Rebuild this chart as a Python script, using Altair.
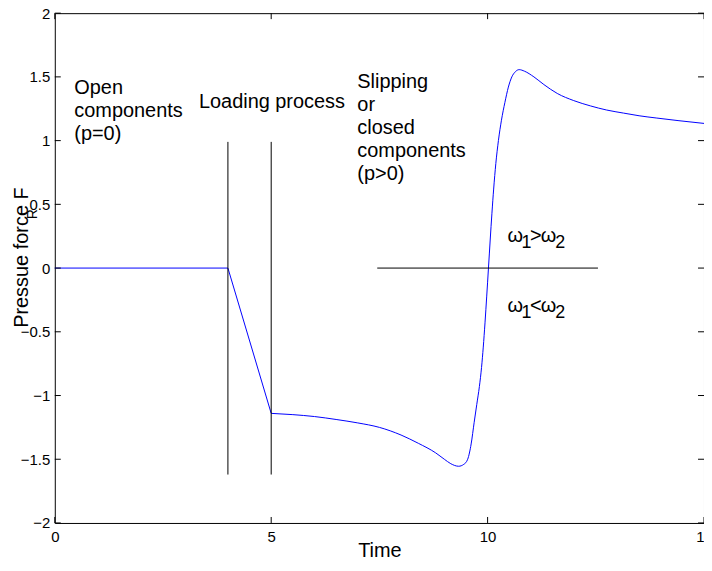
import altair as alt
import pandas as pd

# ---------------- data ----------------
# piecewise-linear start of the pressure force curve
t_ramp = [0, 4, 5]
f_ramp = [0, 0, -1.14]

# smooth part of the curve
t_curve = [5.0, 5.5, 6.0, 6.5, 7.0, 7.5, 8.0, 8.4, 8.8, 9.0, 9.15, 9.33, 9.45,
           9.54, 9.62, 9.69, 9.75, 9.81, 9.86, 9.90, 9.94, 9.98, 10.02, 10.06,
           10.10, 10.14, 10.19, 10.25, 10.32, 10.40, 10.48, 10.56, 10.64,
           10.73, 10.85, 11.07, 11.3, 11.61, 11.99, 12.38, 12.75, 13.14, 13.5,
           13.91, 14.4, 15.0]
f_curve = [-1.14, -1.15, -1.165, -1.188, -1.215, -1.25, -1.31, -1.375, -1.45,
           -1.50, -1.535, -1.555, -1.54, -1.50, -1.38, -1.21, -1.07, -0.93,
           -0.78, -0.62, -0.43, -0.22, 0.0, 0.22, 0.43, 0.62, 0.82, 1.0, 1.16,
           1.30, 1.42, 1.50, 1.54, 1.557, 1.545, 1.50, 1.44, 1.37, 1.314,
           1.272, 1.24, 1.216, 1.195, 1.177, 1.157, 1.135]

# vertical separator lines (t, bottom, top)
vline_t = [4, 5]
vline_bottom = [-1.62, -1.62]
vline_top = [0.99, 0.99]

# horizontal line at zero
hline_t = [7.45, 12.55]
hline_f = [0, 0]

# annotations (y = middle of first line)
ann_x = [0.45, 3.33, 6.99]
ann_y = [1.414, 1.3, 1.463]
ann_text = [["Open", "components", "(p=0)"],
             ["Loading process"],
             ["Slipping", "or", "closed", "components", "(p>0)"]]

# omega annotations, pieces per line (y = baseline)
omega_x = 10.46
omega_y = [0.201, -0.341]
omega_lines = [["ω", "1", ">", "ω", "2"],
               ["ω", "1", "<", "ω", "2"]]

x_ticks = [0, 5, 10, 15]
y_ticks = [-2, -1.5, -1, -0.5, 0, 0.5, 1, 1.5, 2]

# ---------------- chart ----------------
W, H = 652, 512
FONT = "Liberation Sans"
xs = alt.Scale(domain=[0, 15], nice=False, zero=False)
ys = alt.Scale(domain=[-2, 2], nice=False, zero=False)

xaxis = alt.Axis(values=x_ticks, ticks=False, domain=False, grid=False,
                 labelFontSize=15, labelPadding=7, labelFlush=False,
                 labelColor="black", labelFont=FONT,
                 title="Time", titleFontSize=20, titleFontWeight="normal",
                 titleFont=FONT, titleColor="black", titleY=34,
                 titleBaseline="alphabetic")
yaxis = alt.Axis(values=y_ticks, format="~g", ticks=False, domain=False,
                 grid=False, labelFontSize=15, labelPadding=5,
                 labelFlush=False, labelColor="black", labelFont=FONT,
                 title="Pressue force F", titleFontSize=20,
                 titleFontWeight="normal", titleFont=FONT, titleColor="black",
                 titleAngle=270, titleX=-27, titleY=245, titleAlign="center",
                 titleBaseline="alphabetic")


def X(field):
    return alt.X(field, scale=xs, axis=xaxis)


def Y(field):
    return alt.Y(field, scale=ys, axis=yaxis)


ramp_df = pd.DataFrame({"t": t_ramp, "f": f_ramp})
curve_df = pd.DataFrame({"t": t_curve, "f": f_curve})

ramp = alt.Chart(ramp_df).mark_line(color="#0000ff", strokeWidth=1).encode(
    x=X("t:Q"), y=Y("f:Q"))
curve = alt.Chart(curve_df).mark_line(color="#0000ff", strokeWidth=1,
                                      interpolate="monotone").encode(
    x=X("t:Q"), y=Y("f:Q"))

vdf = pd.DataFrame({"t": vline_t, "b": vline_bottom, "u": vline_top})
vlines = alt.Chart(vdf).mark_rule(color="black", strokeWidth=1).encode(
    x=X("t:Q"), y=Y("b:Q"), y2="u:Q")

hdf = pd.DataFrame({"t": hline_t, "f": hline_f})
hline = alt.Chart(hdf).mark_line(color="black", strokeWidth=1).encode(
    x=X("t:Q"), y=Y("f:Q"))

ann_data = alt.Data(values=[{"x": a, "y": b, "txt": c}
                            for a, b, c in zip(ann_x, ann_y, ann_text)])
ann = alt.Chart(ann_data).mark_text(align="left", baseline="middle",
                                    fontSize=20, font=FONT, color="black",
                                    lineHeight=23.3).encode(
    x=X("x:Q"), y=Y("y:Q"), text="txt:N")

# omega pieces: offsets in pixels and font sizes
piece_dx = [0, 14, 22.5, 33.5, 48]
piece_dy = [0, 6, 0, 0, 6]
piece_fs = [20, 18, 20, 20, 18]
omega_layers = []
for i in range(5):
    rows = [{"x": omega_x, "y": omega_y[k], "s": omega_lines[k][i]}
            for k in range(2)]
    omega_layers.append(
        alt.Chart(alt.Data(values=rows)).mark_text(
            align="left", baseline="alphabetic", fontSize=piece_fs[i],
            font=FONT, color="black", dx=piece_dx[i], dy=piece_dy[i]
        ).encode(x=X("x:Q"), y=Y("y:Q"), text="s:N")
    )

# subscript R of the y title
rsub = alt.Chart(alt.Data(values=[{"s": "R"}])).mark_text(
    angle=270, fontSize=14, font=FONT, color="black", align="center",
    baseline="middle"
).encode(x=alt.value(-22), y=alt.value(202), text="s:N")

# inward tick marks on all four sides
xt = pd.DataFrame({"v": x_ticks})
yt = pd.DataFrame({"v": y_ticks})
tick_b = alt.Chart(xt).mark_rule(color="black").encode(
    x=X("v:Q"), y=alt.value(H), y2=alt.value(H - 6))
tick_t = alt.Chart(xt).mark_rule(color="black").encode(
    x=X("v:Q"), y=alt.value(0), y2=alt.value(6))
tick_l = alt.Chart(yt).mark_rule(color="black").encode(
    y=Y("v:Q"), x=alt.value(0), x2=alt.value(6))
tick_r = alt.Chart(yt).mark_rule(color="black").encode(
    y=Y("v:Q"), x=alt.value(W), x2=alt.value(W - 6))

chart = alt.layer(
    ramp, curve, vlines, hline, ann, *omega_layers, rsub,
    tick_b, tick_t, tick_l, tick_r
).properties(
    width=W, height=H,
    padding={"left": 47, "top": 4, "right": 0, "bottom": 35},
    autosize=alt.AutoSizeParams(type="none"),
).configure_view(stroke="black", strokeWidth=1)

chart.save("out.html", embed_options={"renderer": "svg", "actions": False})
